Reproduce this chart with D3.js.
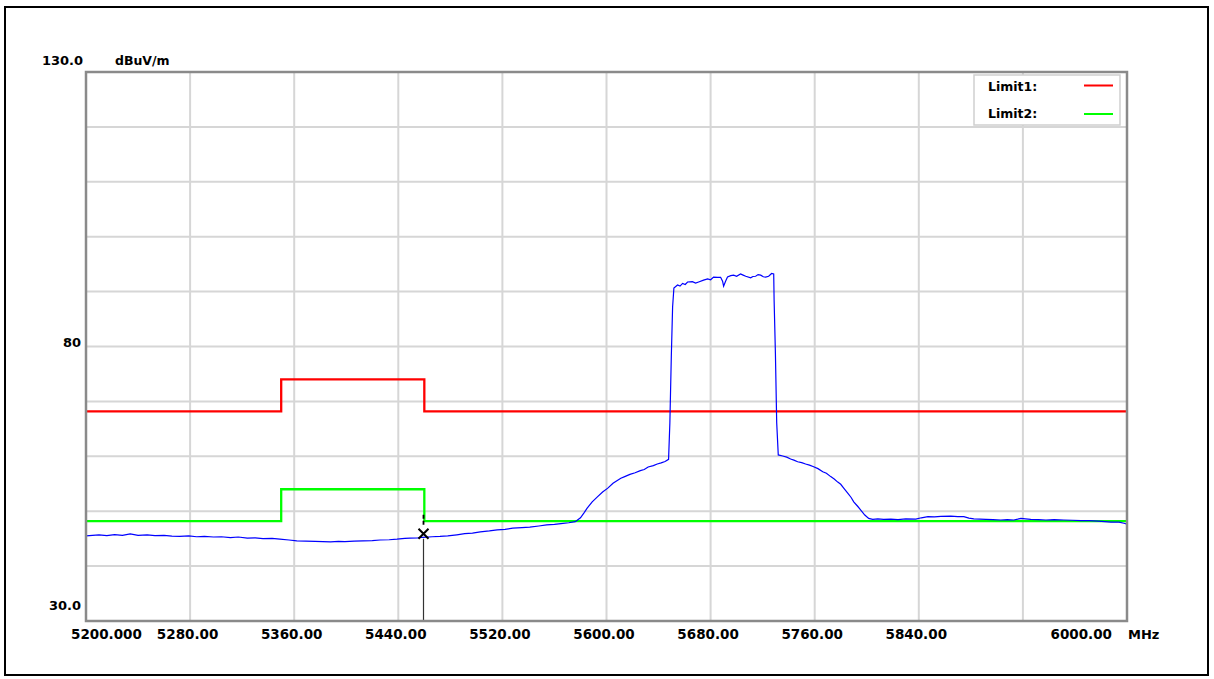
<!DOCTYPE html>
<html>
<head>
<meta charset="utf-8">
<script src="https://cdn.jsdelivr.net/npm/d3@7"></script>
<style>
  html, body { margin: 0; padding: 0; background: #fff; }
  svg text { font-family: "DejaVu Sans", sans-serif; font-weight: bold; fill: #000; }
</style>
</head>
<body>
<svg id="chart" width="1214" height="679"></svg>
<script>
// ---------------- data ----------------
const xTickValues = [5200, 5280, 5360, 5440, 5520, 5600, 5680, 5760, 5840, 5920, 6000];
const xTickLabels = ["5200.000", "5280.00", "5360.00", "5440.00", "5520.00", "5600.00", "5680.00", "5760.00", "5840.00", "", "6000.00"];
const yGridValues = [30, 40, 50, 60, 70, 80, 90, 100, 110, 120, 130];
const yTickValues = [130, 80, 30];
const yTickLabels = ["130.0", "80", "30.0"];
const yUnit = "dBuV/m";
const xUnit = "MHz";

const limitNames = ["Limit1:", "Limit2:"];
const limit1Freq = [5200, 5350, 5350, 5460, 5460, 6000];
const limit1Level = [68.2, 68.2, 74.0, 74.0, 68.2, 68.2];
const limit2Freq = [5200, 5350, 5350, 5460, 5460, 6000];
const limit2Level = [48.2, 48.2, 54.0, 54.0, 48.2, 48.2];

const markerFreq = 5459.2;
const markerLevel = 45.9;

const traceFreq = [5200,5205,5210,5216,5222,5228,5234,5240,5247,5253,5260,5266,5272,5279,5285,5291,5298,5304,5311,5317,5324,5330,5336,5343,5349,5356,5362,5369,5376,5382,5388,5394,5399,5406,5413,5420,5426,5433,5439,5445,5449,5455,5459,5466,5472,5478,5485,5491,5497,5503,5510,5516,5522,5528,5535,5541,5548,5554,5560,5565,5571,5576,5580,5583,5585,5589,5593,5597,5601,5605,5611,5614,5618,5622,5626,5629,5632,5636,5639,5642,5645,5647.7,5648.7,5649.8,5650.8,5651.8,5654.6,5656.5,5658.5,5660.5,5662.3,5666,5668.5,5670.8,5674.6,5677.7,5680,5682.3,5685.4,5687.7,5689.2,5690,5691.5,5693,5695.5,5697.7,5700,5703,5705,5707,5710.8,5712.5,5714.6,5716.5,5718.5,5720.5,5722.3,5724.6,5726.9,5728.5,5728.8,5729.8,5730.8,5732,5735.4,5738.5,5741.5,5744,5746.9,5750,5753,5756,5759.2,5762.5,5766.2,5769,5772.3,5775,5777.7,5780,5782.3,5786,5788,5790,5793,5795.4,5798.5,5801.5,5804.6,5808.5,5813,5818.5,5824,5830,5837.7,5842,5847,5852,5857,5864.6,5870,5874.6,5878.5,5882.3,5887,5891.5,5897,5903,5908,5913,5916,5918.5,5922,5926,5932,5937.7,5944,5951.5,5958,5964.6,5971,5977.7,5983,5987.7,5993.8,5997.7,6000];
const traceLevel = [45.5,45.6,45.7,45.55,45.75,45.6,45.85,45.6,45.7,45.55,45.6,45.45,45.4,45.5,45.35,45.4,45.3,45.35,45.2,45.3,45.1,45.15,45.0,45.05,44.9,44.75,44.6,44.55,44.5,44.45,44.4,44.5,44.45,44.55,44.6,44.65,44.75,44.8,44.9,45.05,45.1,45.15,45.25,45.35,45.4,45.5,45.7,45.9,46.0,46.25,46.4,46.6,46.7,46.9,47.0,47.1,47.3,47.5,47.6,47.75,47.9,48.1,48.8,49.8,50.5,51.7,52.6,53.5,54.2,55.1,56.0,56.3,56.7,57.0,57.4,57.6,58.05,58.3,58.6,58.8,59.05,59.45,66.1,78.1,87.2,90.65,91.2,91.0,91.5,91.3,91.75,91.8,91.55,91.75,92.1,92.3,92.15,92.65,92.6,92.6,91.9,91.0,91.9,92.65,92.9,93.0,92.8,93.2,93.0,92.8,92.5,92.75,92.8,93.1,93.0,92.7,92.65,92.8,93.3,93.2,88.5,78.8,66.1,60.25,60.05,59.85,59.5,59.3,59.0,58.85,58.6,58.4,58.1,57.75,57.2,56.9,56.3,55.85,55.3,54.9,54.2,53.1,52.5,51.7,50.9,50.2,49.3,48.7,48.5,48.6,48.5,48.55,48.45,48.6,48.55,48.8,49.0,48.95,49.05,49.1,49.0,49.0,48.75,48.6,48.55,48.5,48.45,48.4,48.45,48.4,48.55,48.7,48.6,48.5,48.45,48.4,48.45,48.4,48.35,48.3,48.3,48.2,48.1,48.0,48.0,47.8,47.65];

// ---------------- drawing ----------------
const svg = d3.select("#chart");
const x = d3.scaleLinear().domain([5200, 6000]).range([86, 1127]);
const y = d3.scaleLinear().domain([30, 130]).range([621, 72]);

// outer frame
svg.append("rect").attr("x", 5).attr("y", 7).attr("width", 1203).attr("height", 668)
  .attr("fill", "none").attr("stroke", "#000").attr("stroke-width", 2);

// plot background
svg.append("rect").attr("x", x(5200)).attr("y", y(130)).attr("width", x(6000) - x(5200)).attr("height", y(30) - y(130))
  .attr("fill", "#fff");

// grid
const grid = svg.append("g");
grid.selectAll("line.v").data(xTickValues).join("line")
  .attr("x1", d => x(d)).attr("x2", d => x(d)).attr("y1", y(130)).attr("y2", y(30))
  .attr("stroke", "#d6d6d6").attr("stroke-width", 2);
grid.selectAll("line.h").data(yGridValues).join("line")
  .attr("y1", d => y(d)).attr("y2", d => y(d)).attr("x1", x(5200)).attr("x2", x(6000))
  .attr("stroke", "#d6d6d6").attr("stroke-width", 2);

// legend box (covers grid)
const legend = svg.append("g");
legend.append("rect").attr("x", 974).attr("y", 75).attr("width", 146).attr("height", 50)
  .attr("fill", "#fff").attr("stroke", "#cfcfcf").attr("stroke-width", 1.5);
const limitColors = ["#ff0000", "#00ff00"];
limitNames.forEach((n, i) => {
  legend.append("text").attr("x", 988).attr("y", 91 + i * 27).attr("font-size", 12.5).text(n);
  legend.append("line").attr("x1", 1084).attr("x2", 1113).attr("y1", 85.5 + i * 28.5).attr("y2", 85.5 + i * 28.5)
    .attr("stroke", limitColors[i]).attr("stroke-width", 2);
});

// limits
const line = d3.line().x(d => x(d[0])).y(d => y(d[1]));
svg.append("path").datum(d3.zip(limit1Freq, limit1Level)).attr("d", line)
  .attr("fill", "none").attr("stroke", "#ff0000").attr("stroke-width", 2.3);
svg.append("path").datum(d3.zip(limit2Freq, limit2Level)).attr("d", line)
  .attr("fill", "none").attr("stroke", "#00ff00").attr("stroke-width", 2.3);

// trace
svg.append("path").datum(d3.zip(traceFreq, traceLevel)).attr("d", line)
  .attr("fill", "none").attr("stroke", "#0000ff").attr("stroke-width", 1.2);

// marker
const mx = Math.round(x(markerFreq)) + 0.5;
svg.append("line").attr("x1", mx).attr("x2", mx).attr("y1", y(markerLevel) + 5).attr("y2", y(30))
  .attr("stroke", "#333").attr("stroke-width", 1.2);
svg.append("line").attr("x1", mx).attr("x2", mx).attr("y1", y(markerLevel) - 19).attr("y2", y(markerLevel) - 7)
  .attr("stroke", "#000").attr("stroke-width", 1.8).attr("stroke-dasharray", "4,2");
const my = y(markerLevel);
svg.append("path").attr("d", `M${mx - 5},${my - 5}L${mx + 5},${my + 5}M${mx + 5},${my - 5}L${mx - 5},${my + 5}`)
  .attr("stroke", "#000").attr("stroke-width", 2).attr("fill", "none");

// plot frame
svg.append("rect").attr("x", x(5200)).attr("y", y(130)).attr("width", x(6000) - x(5200)).attr("height", y(30) - y(130))
  .attr("fill", "none").attr("stroke", "#8a8a8a").attr("stroke-width", 2.5);

// y labels
const yBaselines = [65, 347, 610];
svg.selectAll("text.yl").data(yTickValues).join("text")
  .attr("x", (d, i) => i === 0 ? 83 : 81)
  .attr("y", (d, i) => yBaselines[i])
  .attr("text-anchor", "end").attr("font-size", 13).text((d, i) => yTickLabels[i]);
svg.append("text").attr("x", 115).attr("y", 65).attr("font-size", 12.5).text(yUnit);

// x labels
svg.selectAll("text.xl").data(xTickValues).join("text")
  .attr("x", (d, i) => i === 0 ? x(d) - 15 : (i === xTickValues.length - 1 ? x(d) - 15 : x(d) - 2.5))
  .attr("y", 639)
  .attr("text-anchor", (d, i) => i === 0 ? "start" : (i === xTickValues.length - 1 ? "end" : "middle"))
  .attr("font-size", 13.5).text((d, i) => xTickLabels[i]);
svg.append("text").attr("x", 1128).attr("y", 639).attr("font-size", 13).text(xUnit);
</script>
</body>
</html>
